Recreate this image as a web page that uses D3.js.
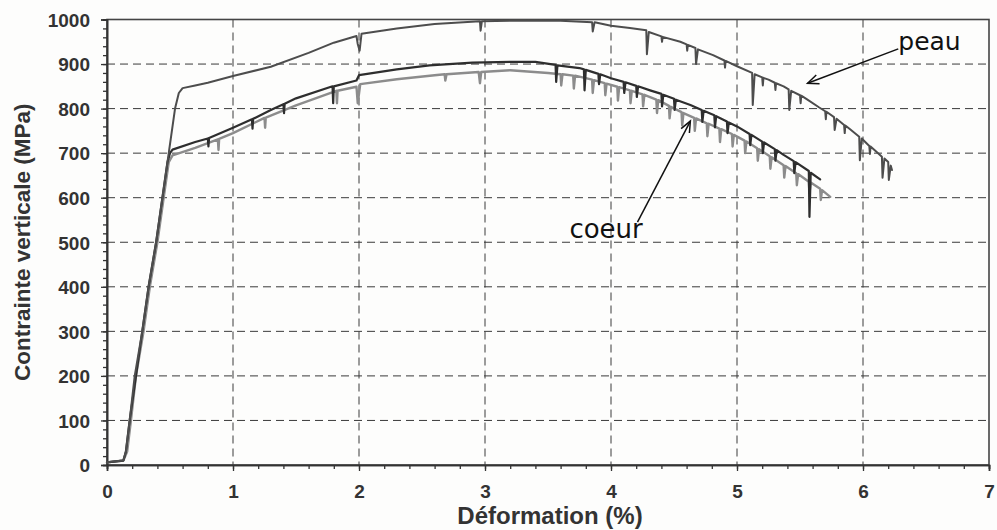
<!DOCTYPE html>
<html><head><meta charset="utf-8">
<script src="https://cdn.jsdelivr.net/npm/d3@7"></script>
<style>
body{margin:0;background:#fdfdfc;}
svg{display:block;}
</style></head>
<body>
<svg id="chart" width="997" height="530"></svg>
<script>
// ---- data (strain %, stress MPa) ----
const xTicks = [0,1,2,3,4,5,6,7];
const yTicks = [0,100,200,300,400,500,600,700,800,900,1000];
const xTitle = "Déformation (%)";
const yTitle = "Contrainte verticale (MPa)";

const peau = [[0,6],[0.05,8],[0.13,10],[0.15,30],[0.18,100],[0.22,200],[0.28,300],[0.33,400],[0.39,500],[0.44,600],[0.49,700],[0.54,800],[0.57,835],[0.60,846],[0.7,852],[0.8,858],[1.0,873],[1.3,894],[1.6,925],[1.8,948],[1.98,963],[1.99,945],[2.005,930],[2.02,968],[2.3,980],[2.6,990],[2.96,996],[2.965,975],[2.975,996],[3.3,998],[3.6,997],[3.85,994],[3.855,973],[3.87,994],[4.0,986],[4.15,981],[4.28,976],[4.285,922],[4.3,972],[4.4,962],[4.405,950],[4.41,961],[4.55,950],[4.6,944],[4.605,930],[4.61,943],[4.67,936],[4.675,900],[4.69,933],[4.81,920],[4.9,908],[4.905,892],[4.91,907],[5.0,895],[5.12,880],[5.125,808],[5.14,877],[5.2,870],[5.205,852],[5.21,869],[5.25,865],[5.3,858],[5.305,842],[5.31,857],[5.37,850],[5.41,843],[5.415,797],[5.43,840],[5.5,830],[5.505,812],[5.51,829],[5.55,822],[5.65,803],[5.7,794],[5.705,776],[5.71,793],[5.77,781],[5.775,752],[5.79,777],[5.85,763],[5.855,745],[5.86,762],[5.9,753],[5.97,737],[5.975,684],[5.99,733],[6.05,716],[6.055,698],[6.06,715],[6.1,705],[6.15,692],[6.155,645],[6.17,688],[6.2,680],[6.205,640],[6.22,672],[6.23,662]];

const coeurDark = [[0,6],[0.13,10],[0.15,30],[0.18,100],[0.23,200],[0.28,300],[0.33,400],[0.39,500],[0.44,600],[0.48,680],[0.50,700],[0.52,708],[0.7,725],[0.8,733],[0.805,715],[0.81,734],[1.0,757],[1.15,776],[1.155,755],[1.16,777],[1.3,797],[1.4,810],[1.405,790],[1.41,811],[1.5,823],[1.79,850],[1.795,812],[1.80,850],[1.98,863],[2.0,875],[2.3,888],[2.56,897],[2.9,903],[3.2,905],[3.4,905],[3.56,898],[3.565,860],[3.575,897],[3.75,891],[3.785,888],[3.79,841],[3.8,887],[3.9,878],[3.905,855],[3.915,877],[4.0,868],[4.1,860],[4.105,835],[4.115,859],[4.2,851],[4.205,826],[4.215,850],[4.31,841],[4.4,833],[4.405,805],[4.415,831],[4.5,822],[4.505,797],[4.515,820],[4.63,808],[4.72,797],[4.725,770],[4.735,795],[4.82,785],[4.825,758],[4.835,783],[4.92,771],[4.925,745],[4.935,769],[5.0,760],[5.1,743],[5.105,718],[5.115,741],[5.2,726],[5.205,700],[5.215,724],[5.3,709],[5.305,683],[5.315,707],[5.37,696],[5.45,682],[5.455,655],[5.465,680],[5.57,660],[5.575,557],[5.585,656],[5.66,641]];

const coeurLight = [[0,6],[0.13,10],[0.16,30],[0.19,100],[0.23,200],[0.29,300],[0.34,400],[0.40,500],[0.45,600],[0.49,680],[0.52,695],[0.7,712],[0.88,731],[0.885,707],[0.89,732],[1.0,745],[1.25,779],[1.255,757],[1.26,780],[1.5,807],[1.82,840],[1.825,812],[1.83,840],[1.98,849],[1.99,812],[2.01,855],[2.3,866],[2.6,875],[2.68,877],[2.685,863],[2.695,877],[2.95,882],[2.96,857],[2.97,882],[3.2,886],[3.5,880],[3.6,877],[3.605,852],[3.615,877],[3.7,874],[3.705,845],[3.715,874],[3.85,865],[3.855,835],[3.865,864],[3.95,857],[3.955,830],[3.965,856],[4.05,849],[4.055,818],[4.065,848],[4.15,841],[4.155,812],[4.165,840],[4.25,832],[4.255,805],[4.265,831],[4.36,820],[4.365,790],[4.375,819],[4.46,806],[4.465,778],[4.475,804],[4.56,792],[4.565,762],[4.575,790],[4.66,779],[4.665,750],[4.675,778],[4.76,767],[4.765,738],[4.775,766],[4.86,755],[4.865,725],[4.875,754],[4.96,743],[4.965,715],[4.975,741],[5.06,728],[5.065,700],[5.075,726],[5.16,711],[5.165,683],[5.175,709],[5.26,693],[5.265,665],[5.275,691],[5.37,673],[5.375,645],[5.385,671],[5.47,655],[5.475,628],[5.485,653],[5.57,636],[5.575,610],[5.585,634],[5.66,620],[5.665,595],[5.675,617],[5.74,602]];

// annotations in data units
const annLabels = ["peau","coeur"];
const annText = [[6.28,931],[3.67,510]];
const annFrom = [[6.28,934],[4.21,545]];
const annTo = [[5.56,857],[4.63,772]];

// ---- drawing ----
const svg = d3.select("#chart");
const x = d3.scaleLinear().domain([0,7]).range([107,989]);
const y = d3.scaleLinear().domain([0,1000]).range([465,19.5]);
const ink = "#333";

// grid
const grid = svg.append("g").attr("stroke","#3a3a3a").attr("stroke-width",1).attr("stroke-dasharray","8,5");
grid.selectAll("line.v").data(xTicks.filter(d=>d>0&&d<7)).join("line")
  .attr("x1",d=>x(d)).attr("x2",d=>x(d)).attr("y1",y(1000)).attr("y2",y(0));
grid.selectAll("line.h").data(yTicks.filter(d=>d>0&&d<1000)).join("line")
  .attr("x1",x(0)).attr("x2",x(7)).attr("y1",d=>y(d)).attr("y2",d=>y(d));

// frame
svg.append("rect").attr("x",x(0)).attr("y",y(1000)).attr("width",x(7)-x(0)).attr("height",y(0)-y(1000))
  .attr("fill","none").attr("stroke","#444").attr("stroke-width",1.6);

// axes
const fmt = d3.format("d");
const xAxis = d3.axisBottom(x).tickValues(xTicks).tickFormat(fmt).tickSize(6).tickPadding(14);
const xMinor = d3.axisBottom(x).tickValues(d3.range(0,7.01,0.2)).tickFormat("").tickSize(4);
const yAxis = d3.axisLeft(y).tickValues(yTicks).tickFormat(fmt).tickSize(6).tickPadding(11);
const yMinor = d3.axisLeft(y).tickValues(d3.range(0,1000.1,20)).tickFormat("").tickSize(4);

function styleAxis(g){
  g.select(".domain").attr("stroke","#333").attr("stroke-width",1.6);
  g.selectAll(".tick line").attr("stroke","#333").attr("stroke-width",1.3);
  g.selectAll(".tick text").attr("fill",ink).attr("font-family","'Liberation Sans', Arial, sans-serif")
    .attr("font-weight","bold").attr("font-size",19);
}
svg.append("g").attr("transform",`translate(0,${y(0)})`).call(xMinor).call(styleAxis);
svg.append("g").attr("transform",`translate(0,${y(0)})`).call(xAxis).call(styleAxis);
svg.append("g").attr("transform",`translate(${x(0)},0)`).call(yMinor).call(styleAxis);
svg.append("g").attr("transform",`translate(${x(0)},0)`).call(yAxis).call(styleAxis)
  .selectAll(".tick text").attr("dy","0.36em");

// titles
svg.append("text").attr("x",(x(0)+x(7))/2+2).attr("y",524).attr("text-anchor","middle")
  .attr("font-family","'Liberation Sans', Arial, sans-serif").attr("font-weight","bold").attr("font-size",24)
  .attr("fill",ink).text(xTitle);
svg.append("text").attr("transform",`translate(30,${(y(0)+y(1000))/2}) rotate(-90)`).attr("text-anchor","middle")
  .attr("font-family","'Liberation Sans', Arial, sans-serif").attr("font-weight","bold").attr("font-size",22.5)
  .attr("fill",ink).text(yTitle);

// curves
const line = d3.line().x(d=>x(d[0])).y(d=>y(d[1]));
const series = [
  {data:coeurLight, color:"#8c8c8c", w:2.4},
  {data:coeurDark, color:"#2e2e2e", w:2.2},
  {data:peau, color:"#4d4d4d", w:2.0}
];
svg.append("g").selectAll("path").data(series).join("path")
  .attr("d",d=>line(d.data)).attr("fill","none").attr("stroke",d=>d.color)
  .attr("stroke-width",d=>d.w).attr("stroke-linejoin","round").attr("stroke-linecap","round");

// annotations
const ann = svg.append("g");
annLabels.forEach((lab,i)=>{
  ann.append("text").attr("x",x(annText[i][0])).attr("y",y(annText[i][1]))
    .attr("font-family","'DejaVu Sans', sans-serif").attr("font-size",i===0?25:26).attr("fill","#111").text(lab);
  const x1=x(annFrom[i][0]), y1=y(annFrom[i][1]), x2=x(annTo[i][0]), y2=y(annTo[i][1]);
  ann.append("line").attr("x1",x1).attr("y1",y1).attr("x2",x2).attr("y2",y2).attr("stroke","#111").attr("stroke-width",1.5);
  const a = Math.atan2(y2-y1,x2-x1), L=12, s=0.4;
  const p = [[x2-L*Math.cos(a-s), y2-L*Math.sin(a-s)],[x2,y2],[x2-L*Math.cos(a+s), y2-L*Math.sin(a+s)]];
  ann.append("path").attr("d",d3.line()(p)).attr("fill","none").attr("stroke","#111").attr("stroke-width",1.5);
});
</script>
</body></html>
